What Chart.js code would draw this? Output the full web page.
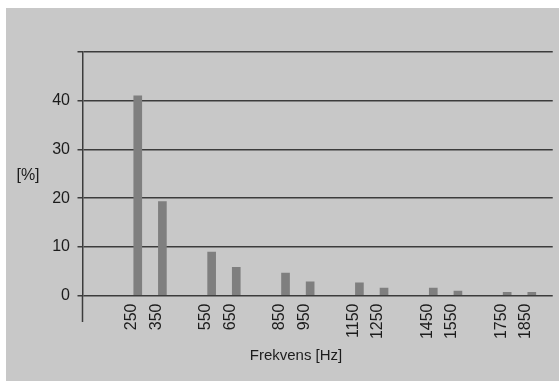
<!DOCTYPE html>
<html>
<head>
<meta charset="utf-8">
<script src="https://cdn.jsdelivr.net/npm/chart.js@4.4.0/dist/chart.umd.min.js"></script>
<style>
  html, body { margin: 0; padding: 0; background: #ffffff; }
  #wrap { position: absolute; left: 6px; top: 8px; width: 553px; height: 373px; background: #c8c8c8; }
  canvas { display: block; }
</style>
</head>
<body>
<div id="wrap"><canvas id="chart" width="553" height="373"></canvas></div>
<script>
// Frequency bands (Hz) and their share (%)
const frequencies = [250, 350, 550, 650, 850, 950, 1150, 1250, 1450, 1550, 1750, 1850];
const shares = [41.0, 19.3, 8.9, 5.8, 4.6, 2.8, 2.6, 1.5, 1.5, 0.9, 0.65, 0.65];
const yTickValues = [0, 10, 20, 30, 40, 50];
const xTitle = 'Frekvens [Hz]';
const yTitle = '[%]';

const FONT = '"Liberation Sans", Arial, Helvetica, sans-serif';
const INK = '#1c1c1c';
const LINE = '#3c3c3c';

// Axis captions, plus the vertical axis running on below the zero line
const axisCaptions = {
  id: 'axisCaptions',
  afterDraw(chart) {
    const { ctx, chartArea } = chart;
    ctx.save();
    ctx.strokeStyle = LINE;
    ctx.lineWidth = 1.5;
    ctx.beginPath();
    ctx.moveTo(chartArea.left, chartArea.bottom);
    ctx.lineTo(chartArea.left, chartArea.bottom + 26.5);
    ctx.stroke();

    ctx.fillStyle = INK;
    ctx.textAlign = 'center';
    ctx.textBaseline = 'middle';
    ctx.font = '15px ' + FONT;
    ctx.fillText(xTitle, chartArea.left + 213.5, chartArea.bottom + 60);
    ctx.font = '16px ' + FONT;
    ctx.fillText(yTitle, 22, chartArea.top + 124);
    ctx.restore();
  }
};

new Chart(document.getElementById('chart'), {
  type: 'bar',
  data: {
    datasets: [{
      data: frequencies.map((f, i) => ({ x: f, y: shares[i] })),
      backgroundColor: '#7f7f7f',
      borderWidth: 0,
      barThickness: 8
    }]
  },
  options: {
    responsive: false,
    animation: false,
    layout: { padding: { top: 44, left: 0, right: 0, bottom: 0 } },
    plugins: { legend: { display: false }, tooltip: { enabled: false } },
    scales: {
      x: {
        type: 'linear',
        offset: false,
        min: 25.6,
        max: 1935,
        grid: { display: false, drawTicks: false },
        border: { display: false },
        afterBuildTicks: (s) => { s.ticks = frequencies.map(v => ({ value: v })); },
        afterFit: (s) => { s.height = 85.5; },
        ticks: {
          autoSkip: false,
          minRotation: 90,
          maxRotation: 90,
          padding: 8,
          labelOffset: -6,
          color: INK,
          font: { family: FONT, size: 16 },
          callback: (v) => String(v)
        }
      },
      y: {
        min: 0,
        max: 50,
        afterBuildTicks: (s) => { s.ticks = yTickValues.map(v => ({ value: v })); },
        afterFit: (s) => { s.width = 76.5; },
        grid: { color: LINE, lineWidth: 1.5, tickLength: 5 },
        border: { display: true, color: LINE, width: 1.5 },
        ticks: {
          padding: 7.5,
          color: INK,
          font: { family: FONT, size: 16 },
          callback: (v) => (v === 50 ? '' : String(v))
        }
      }
    }
  },
  plugins: [axisCaptions]
});
</script>
</body>
</html>
